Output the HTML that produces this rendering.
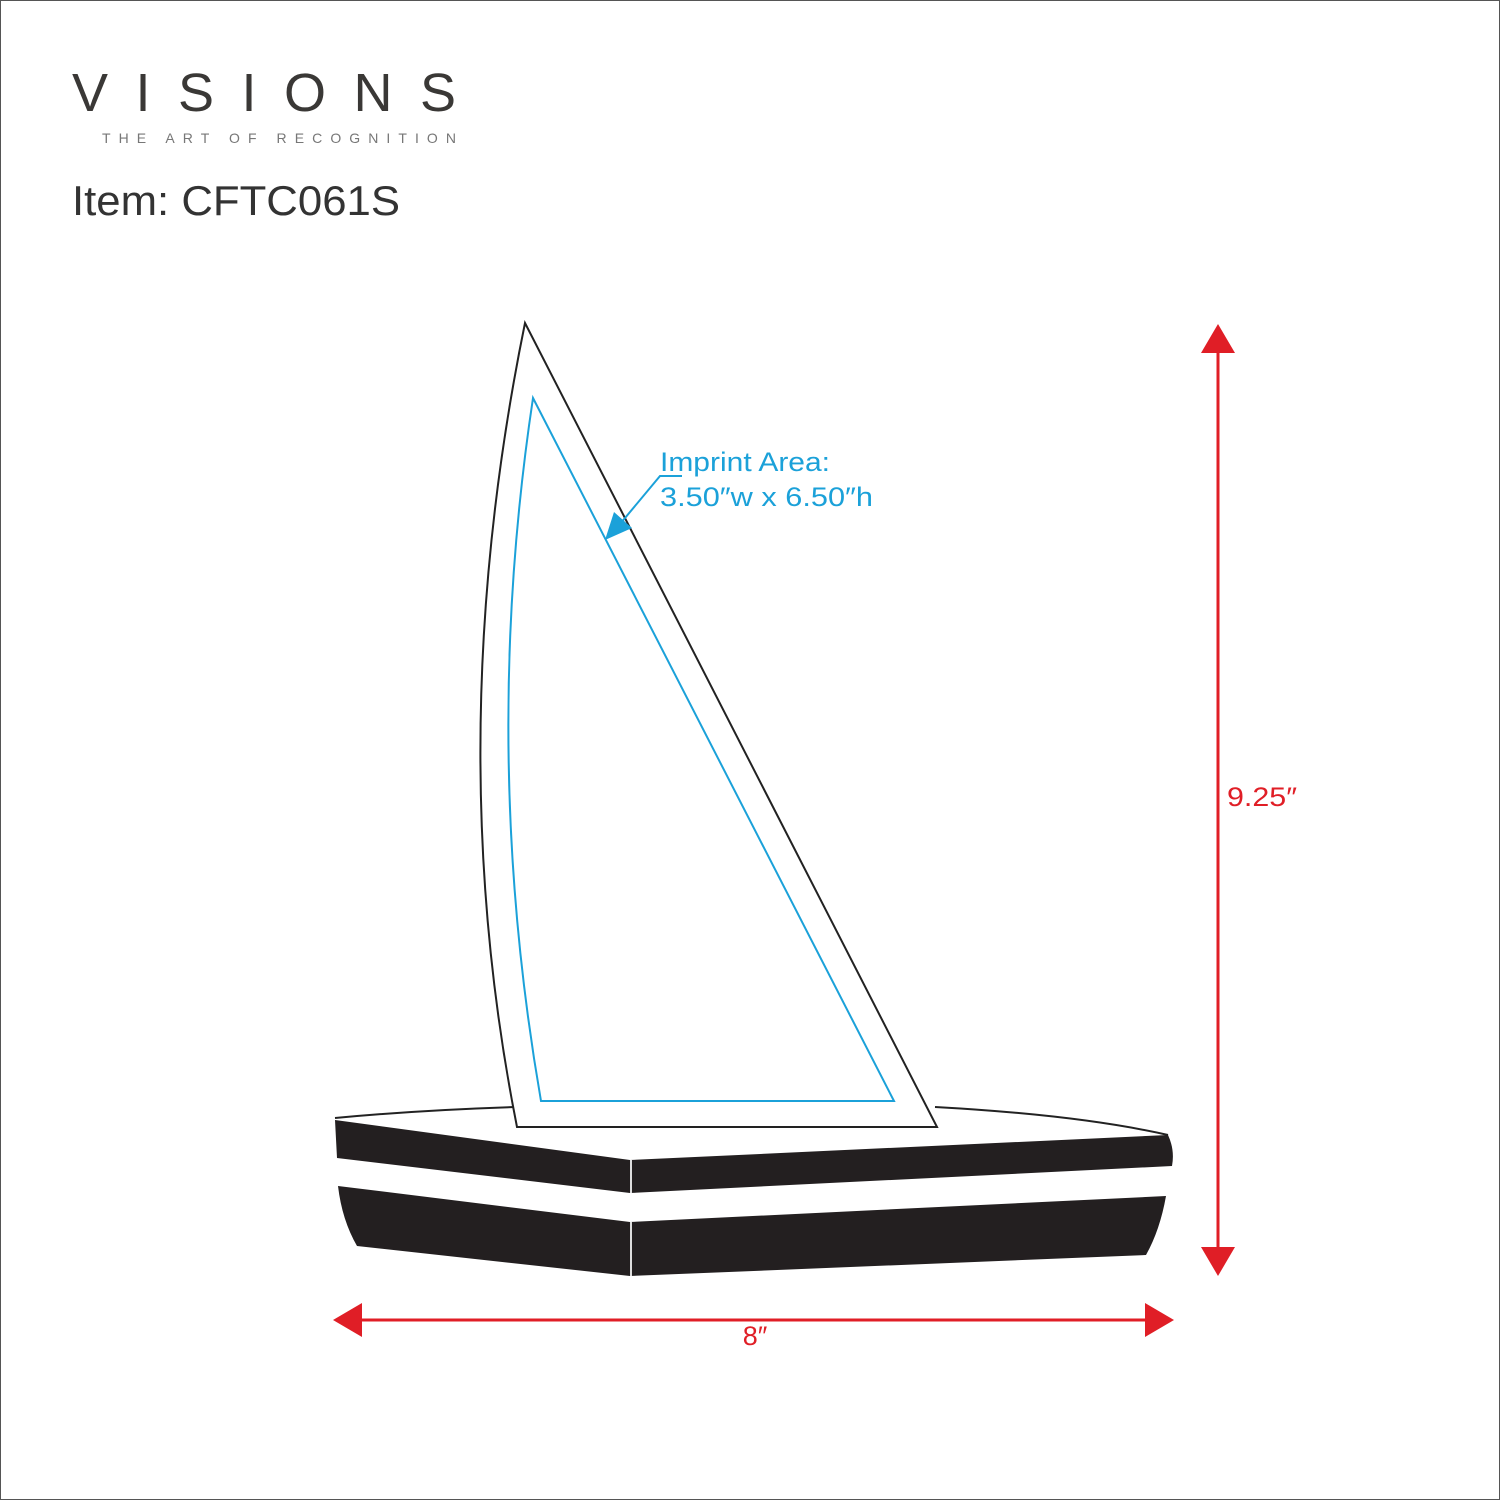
<!DOCTYPE html>
<html><head><meta charset="utf-8"><style>
html,body{margin:0;padding:0;background:#fff}
svg{display:block}
text{font-family:"Liberation Sans",sans-serif}
</style></head><body>
<svg width="1500" height="1500" viewBox="0 0 1500 1500" xmlns="http://www.w3.org/2000/svg">
<rect x="0.5" y="0.5" width="1499" height="1499" fill="#fff" stroke="#555" stroke-width="1"/>
<text x="72" y="111" font-size="54" fill="#3a3836" textLength="384" lengthAdjust="spacing" font-weight="normal">VISIONS</text>
<text x="102" y="143" font-size="14" fill="#777" textLength="354" lengthAdjust="spacing">THE ART OF RECOGNITION</text>
<text x="72" y="215" font-size="42" fill="#333" textLength="328" lengthAdjust="spacingAndGlyphs">Item: CFTC061S</text>

<!-- base -->
<path d="M335,1118 Q420,1110 515,1107 M935,1107 Q1080,1115 1168,1135" fill="none" stroke="#222" stroke-width="2"/>
<path d="M335,1120 L630,1160 L1168,1135 Q1175,1150 1172,1166 L630,1193 L337,1158 Z" fill="#231f20"/>
<path d="M338,1186 L630,1222 L1166,1196 Q1160,1230 1146,1255 L630,1276 L357,1246 Q342,1220 338,1186 Z" fill="#231f20"/>
<line x1="631" y1="1160" x2="631" y2="1193" stroke="#ddd" stroke-width="2"/>
<line x1="631" y1="1222" x2="631" y2="1276" stroke="#ddd" stroke-width="2"/>

<!-- sail -->
<path d="M525,323 L937,1127 L517,1127 Q440,740 525,323 Z" fill="#fff" stroke="#222" stroke-width="2"/>
<path d="M533,398 L894,1101 L541,1101 Q480,750 533,398 Z" fill="none" stroke="#1ba1d9" stroke-width="2"/>

<!-- imprint leader -->
<polyline points="682,476 660,476 620,524" fill="none" stroke="#1ba1d9" stroke-width="2"/>
<polygon points="605,540 614,512 632,528" fill="#1ba1d9"/>
<text x="660" y="471" font-size="27" fill="#1ba1d9" textLength="170" lengthAdjust="spacingAndGlyphs">Imprint Area:</text>
<text x="660" y="506" font-size="27" fill="#1ba1d9" textLength="213" lengthAdjust="spacingAndGlyphs">3.50″w x 6.50″h</text>

<!-- dims -->
<line x1="1218" y1="345" x2="1218" y2="1255" stroke="#e01e26" stroke-width="3"/>
<polygon points="1218,324 1201,353 1235,353" fill="#e01e26"/>
<polygon points="1218,1276 1201,1247 1235,1247" fill="#e01e26"/>
<text x="1227" y="806" font-size="27" fill="#e01e26" textLength="70" lengthAdjust="spacingAndGlyphs">9.25″</text>
<line x1="355" y1="1320" x2="1152" y2="1320" stroke="#e01e26" stroke-width="3"/>
<polygon points="333,1320 362,1303 362,1337" fill="#e01e26"/>
<polygon points="1174,1320 1145,1303 1145,1337" fill="#e01e26"/>
<text x="755" y="1345" font-size="27" fill="#e01e26" text-anchor="middle">8″</text>
</svg>
</body></html>
